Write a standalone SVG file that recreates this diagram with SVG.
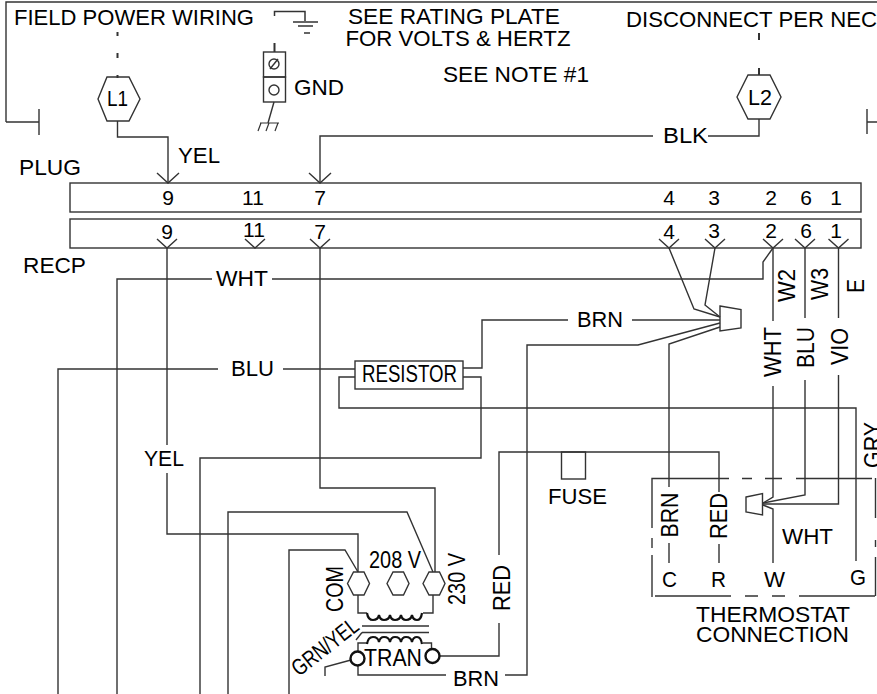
<svg xmlns="http://www.w3.org/2000/svg" width="877" height="694" viewBox="0 0 877 694">
<style>
svg{background:#fff}
text{font-family:"Liberation Sans",Arial,sans-serif;font-size:22px;fill:#000}
.m{text-anchor:middle}
.n{font-size:21px}
.v{font-size:24px}
.t{font-size:23px}
line,polyline,path,rect,polygon,circle{fill:none;stroke:#333;stroke-width:1.4}
.h{stroke-width:1.2}
.b{stroke-width:2}
.c{stroke:#111;stroke-width:2.2}
</style>
<defs>
<path id="arrow" d="M-11,-10 L0,0 L11,-10"/>
<path id="arrowr" d="M-10,-9 L0,0 L10,-9"/>
<path id="hatch" d="M-9,0 H10 M-11,8 L-8,0 M-3,8 L0,0 M6,8 L9,0" class="h"/>
<polygon id="hex" points="-11,0 -5,-11.500 5.500,-11.500 11,0 5.500,11.500 -5,11.500"/>
</defs>
<g id="connectors">
<path d="M6,122 V2 H877"/>
<path d="M39,109 V135 M6,122 H39"/>
<path d="M867,109 V134 M867,122 H877"/>
<path class="b" d="M117.500,32 V36 M117.500,53 V58 M117.500,75 V78"/>
<path class="b" d="M759,33 V40 M759,68 V75"/>
<path d="M117.500,121 V137 H168 V183"/>
<path d="M320,183 V136 H653"/>
<path d="M708,136 H759 V119"/>
<path class="b" d="M274.500,16 V11.500 H305 V21" style="stroke-width:1.500"/>
<path d="M293,22 H318 M298,26 H313 M304,33 H310"/>
<path class="b" d="M274.500,43 V52"/>
<path d="M274,102 L268,123"/>
<path d="M167,248 V445 M167,473 V534 H358 V572"/>
<path d="M320,248 V488 H435 V572"/>
<path d="M773,248 L763,262 V279 H272"/>
<path d="M212,279 H117 V694"/>
<path d="M218,369 H58 V694"/>
<path d="M283,369 H355"/>
<path d="M463,368 H482 V320 H568"/>
<path d="M632,320 H720"/>
<path d="M463,377 H481 V458 H200 V694"/>
<path d="M355,377 H339 V408 H856 V561"/>
<path d="M720,323 L638,345 H527 V675 H505"/>
<path d="M720,327 L669,344 V487 M669,543 V563"/>
<path d="M669,248 L694,309 L720,317"/>
<path d="M715,248 L705,305 L720,317"/>
<path d="M499,555 V452 H719 V492 M719,544 V563"/>
<path d="M499,623 V656 H439"/>
<path d="M773,248 V321 M773,386 V497 L763,503 M763,505 L773,509 V563"/>
<path d="M805,248 V318 M805,380 V495 L763,503"/>
<path d="M838.500,248 V318 M838.500,375 V504 H763"/>
<path d="M228,694 V512 H407 L433,572"/>
<path d="M289,694 V550 H345 L358,572"/>
<path d="M358,595 V613 H367 M423,613 H433 V595"/>
<path d="M358,651 V643 H367 M423,643 H431.500 V650"/>
<path d="M358,665 V675 H446"/>
<path d="M351,660 L325,667 V676"/>
<path d="M356,640 L362,632.500"/>
<path class="c" d="M367,613 q1,7 6,7 q5,0 6,-5 q1,5 5,5 q5,0 6,-5 q1,5 5,5 q5,0 6,-5 q1,5 5,5 q5,0 6,-5 q1,5 5,5 q4,0 5,-7"/>
<path class="c" d="M367,644 q1,-7 6,-7 q5,0 6,5 q1,-5 5,-5 q5,0 6,5 q1,-5 5,-5 q5,0 6,5 q1,-5 5,-5 q5,0 6,5 q1,-5 5,-5 q4,0 5,7"/>
<path d="M362,626 H429 M362,632.500 H429"/>
<path d="M652,528 V478.500 H729 M742,478.500 H752 M765,478.500 H782 M796,478.500 H872"/>
<path d="M652,597 V555 M652,548 V538 M875.500,478 V518 M875.500,540 V547 M875.500,557 V596 M655,596 H731 M745,596 H758 M772,596 H785 M799,596 H875"/>
</g>
<g id="top-labels">
<text x="14" y="25" textLength="240" lengthAdjust="spacingAndGlyphs">FIELD POWER WIRING</text>
<text x="454" y="23.500" class="m" textLength="212" lengthAdjust="spacingAndGlyphs">SEE RATING PLATE</text>
<text x="458" y="46" class="m" textLength="225" lengthAdjust="spacingAndGlyphs">FOR VOLTS &amp; HERTZ</text>
<text x="443" y="82" textLength="146" lengthAdjust="spacingAndGlyphs">SEE NOTE #1</text>
<text x="626" y="26.500" textLength="251" lengthAdjust="spacingAndGlyphs">DISCONNECT PER NEC</text>
</g>
<g id="L1"><polygon points="98,99 107,77 129,77 140,99 129,121 107,121"/><text x="107" y="106" textLength="21" lengthAdjust="spacingAndGlyphs">L1</text></g>
<g id="L2"><polygon points="737,97 748,75 770,75 781,97 770,119 748,119"/><text x="748" y="105" textLength="24" lengthAdjust="spacingAndGlyphs">L2</text></g>
<g id="GND">
<rect x="263.500" y="52" width="22" height="25"/><rect x="263.500" y="77" width="22" height="25"/>
<circle cx="274" cy="64" r="5"/><path d="M270,69 L278,59"/>
<circle cx="274" cy="90" r="5"/>
<use href="#hatch" transform="translate(269,123)"/>
<text x="294" y="94.500" textLength="50" lengthAdjust="spacingAndGlyphs">GND</text>
</g>
<g id="wire-labels">
<text x="178" y="163" textLength="42" lengthAdjust="spacingAndGlyphs">YEL</text>
<text x="663" y="143" textLength="45" lengthAdjust="spacingAndGlyphs">BLK</text>
<text x="216" y="285.500" textLength="52" lengthAdjust="spacingAndGlyphs">WHT</text>
<text x="231" y="376" textLength="43" lengthAdjust="spacingAndGlyphs">BLU</text>
<text x="577" y="327" textLength="46" lengthAdjust="spacingAndGlyphs">BRN</text>
<text x="144" y="465.500" textLength="40" lengthAdjust="spacingAndGlyphs">YEL</text>
<text x="453" y="686" textLength="46" lengthAdjust="spacingAndGlyphs">BRN</text>
<text x="782" y="544" textLength="51" lengthAdjust="spacingAndGlyphs">WHT</text>
<text class="v" transform="translate(510,611) rotate(-90)" textLength="46" lengthAdjust="spacingAndGlyphs">RED</text>
<text class="v" transform="translate(678,537.500) rotate(-90)" textLength="45" lengthAdjust="spacingAndGlyphs">BRN</text>
<text class="v" transform="translate(727,539) rotate(-90)" textLength="46" lengthAdjust="spacingAndGlyphs">RED</text>
<text class="v" transform="translate(781,377) rotate(-90)" textLength="50" lengthAdjust="spacingAndGlyphs">WHT</text>
<text class="v" transform="translate(814,368) rotate(-90)" textLength="41" lengthAdjust="spacingAndGlyphs">BLU</text>
<text class="v" transform="translate(848,365) rotate(-90)" textLength="37" lengthAdjust="spacingAndGlyphs">VIO</text>
<text class="v" transform="translate(795,302) rotate(-90)" textLength="33" lengthAdjust="spacingAndGlyphs">W2</text>
<text class="v" transform="translate(828,300) rotate(-90)" textLength="32" lengthAdjust="spacingAndGlyphs">W3</text>
<text class="v" transform="translate(864,293) rotate(-90)" textLength="14" lengthAdjust="spacingAndGlyphs">E</text>
<text class="v" transform="translate(881,468) rotate(-90)" textLength="46" lengthAdjust="spacingAndGlyphs">GRY</text>
</g>
<g id="plug">
<rect x="70" y="183" width="791" height="29"/>
<text x="19" y="175" textLength="62" lengthAdjust="spacingAndGlyphs">PLUG</text>
<text class="m n" x="168" y="205">9</text><text class="m n" x="253" y="205">11</text><text class="m n" x="320" y="205">7</text><text class="m n" x="669" y="205">4</text><text class="m n" x="714" y="205">3</text><text class="m n" x="771" y="205">2</text><text class="m n" x="806" y="205">6</text><text class="m n" x="836" y="205">1</text>
<use href="#arrow" x="168" y="183"/><use href="#arrow" x="320" y="183"/>
</g>
<g id="recp">
<rect x="70" y="219" width="791" height="29"/>
<text x="23" y="273" textLength="63" lengthAdjust="spacingAndGlyphs">RECP</text>
<text class="m n" x="167" y="239">9</text><text class="m n" x="254" y="237">11</text><text class="m n" x="320" y="239">7</text><text class="m n" x="669" y="239">4</text><text class="m n" x="714" y="238">3</text><text class="m n" x="771" y="238">2</text><text class="m n" x="806" y="238">6</text><text class="m n" x="836" y="238">1</text>
<use href="#arrowr" x="167" y="248"/><use href="#arrowr" x="255" y="248"/><use href="#arrowr" x="320" y="248"/><use href="#arrowr" x="669" y="248"/><use href="#arrowr" x="715" y="248"/><use href="#arrowr" x="773" y="248"/><use href="#arrowr" x="805" y="248"/><use href="#arrowr" x="838.500" y="248"/>
</g>
<g id="resistor"><rect x="355" y="361" width="108" height="28"/><text class="t" x="362" y="382" textLength="95" lengthAdjust="spacingAndGlyphs">RESISTOR</text></g>
<g id="fuse"><rect x="561.500" y="452" width="24" height="27"/><text x="548" y="504" textLength="59" lengthAdjust="spacingAndGlyphs">FUSE</text></g>
<g id="plug-connector"><polygon points="720,306 741,309.500 741,328 720,331"/></g>
<g id="thermostat-connector"><polygon points="746,497 762.500,493.500 762.500,515 746,512"/></g>
<g id="thermostat">
<text x="662" y="587" textLength="15" lengthAdjust="spacingAndGlyphs">C</text>
<text x="711" y="587" textLength="15" lengthAdjust="spacingAndGlyphs">R</text>
<text x="764" y="587" textLength="21" lengthAdjust="spacingAndGlyphs">W</text>
<text x="850" y="585" textLength="16" lengthAdjust="spacingAndGlyphs">G</text>
<text x="696" y="622" textLength="154" lengthAdjust="spacingAndGlyphs">THERMOSTAT</text>
<text x="696" y="641.500" textLength="153" lengthAdjust="spacingAndGlyphs">CONNECTION</text>
</g>
<g id="transformer">
<use href="#hex" transform="translate(358.500,583.500)"/><use href="#hex" transform="translate(398,583.500)"/><use href="#hex" transform="translate(434,583.500)"/>
<circle cx="357.500" cy="658.500" r="7" style="stroke-width:2.400;stroke:#111"/><circle cx="432.500" cy="656" r="7" style="stroke-width:2.400;stroke:#111"/>
<text class="t" x="364" y="665.500" textLength="58" lengthAdjust="spacingAndGlyphs">TRAN</text>
<text class="t" x="369" y="568" textLength="52" lengthAdjust="spacingAndGlyphs">208 V</text>
<text class="v" transform="translate(343,612) rotate(-90)" textLength="46" lengthAdjust="spacingAndGlyphs">COM</text>
<text class="v" transform="translate(465,605) rotate(-90)" textLength="52" lengthAdjust="spacingAndGlyphs">230 V</text>
<text class="t" transform="translate(299,677) rotate(-38)" textLength="78" lengthAdjust="spacingAndGlyphs">GRN/YEL</text>
</g>
</svg>
